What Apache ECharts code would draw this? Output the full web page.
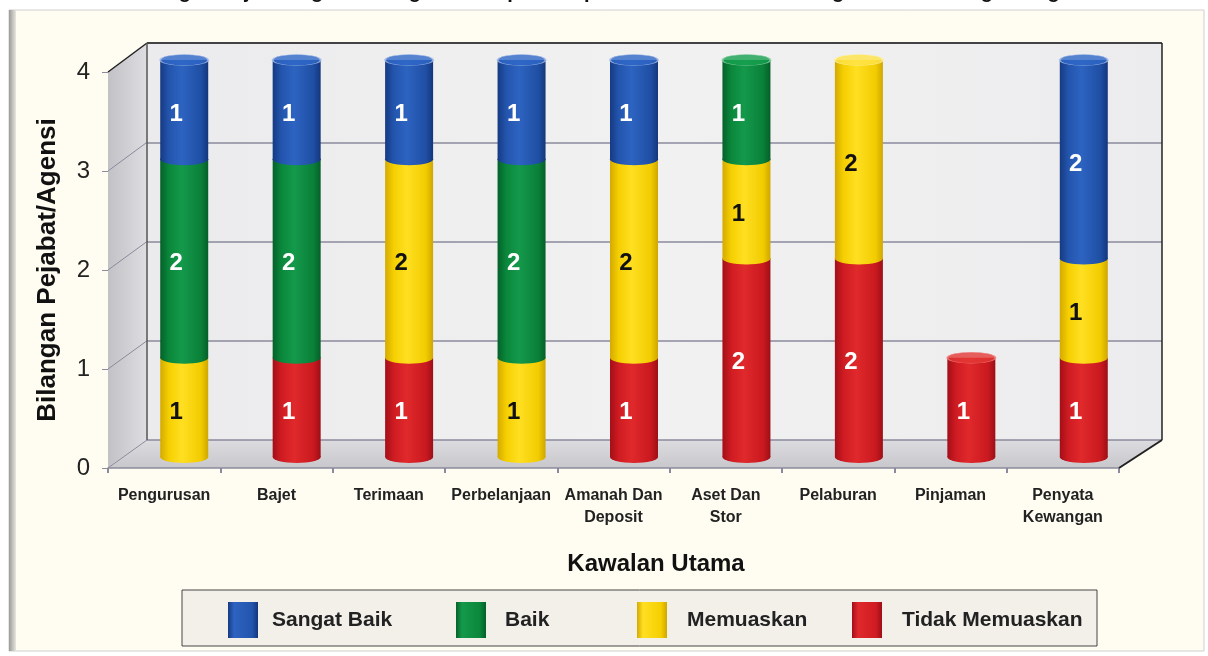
<!DOCTYPE html>
<html>
<head>
<meta charset="utf-8">
<script src="https://cdn.jsdelivr.net/npm/echarts@6/dist/echarts.min.js"></script>
<style>
  html, body { margin: 0; padding: 0; background: #fff; }
  #chart { width: 1208px; height: 656px; }
</style>
</head>
<body>
<div id="chart"></div>
<script>
// data
var categories = ['Pengurusan', 'Bajet', 'Terimaan', 'Perbelanjaan', 'Amanah Dan\nDeposit',
  'Aset Dan\nStor', 'Pelaburan', 'Pinjaman', 'Penyata\nKewangan'];
var tidakMemuaskan = [0, 1, 1, 0, 1, 2, 2, 1, 1];
var memuaskan      = [1, 0, 2, 1, 2, 1, 2, 0, 1];
var baik           = [2, 2, 0, 2, 0, 1, 0, 0, 0];
var sangatBaik     = [1, 1, 1, 1, 1, 0, 0, 0, 2];
var yMax = 4;

var FONT = '"Liberation Sans", Arial, sans-serif';

// kotak 3D (hiasan)
var FX0 = 108, FX1 = 1119, FY0 = 468, FY4 = 72;   // muka depan
var BX0 = 147, BX1 = 1162, BY0 = 440, BY4 = 43;   // dinding belakang

function grad(c) {
  return new echarts.graphic.LinearGradient(0, 0, 1, 0, [
    { offset: 0, color: c[0] }, { offset: 0.18, color: c[1] },
    { offset: 0.45, color: c[2] }, { offset: 0.85, color: c[3] }, { offset: 1, color: c[4] }
  ]);
}

// susunan dari bawah ke atas
var layers = [
  { name: 'Tidak Memuaskan', data: tidakMemuaskan, label: '#fff',
    c: ['#a30f18', '#cf1b22', '#e0292b', '#c9191f', '#9e0e17'], cap: '#e43a36', rim: '#f08080' },
  { name: 'Memuaskan', data: memuaskan, label: '#111',
    c: ['#d4aa00', '#f5cf00', '#ffdf22', '#f2cc00', '#cfa600'], cap: '#ffe448', rim: '#fff0a0' },
  { name: 'Baik', data: baik, label: '#fff',
    c: ['#05612a', '#0a873b', '#14994b', '#0a8038', '#055f29'], cap: '#16a04f', rim: '#8fd0a8' },
  { name: 'Sangat Baik', data: sangatBaik, label: '#fff',
    c: ['#163a82', '#2355ae', '#2d63c1', '#1f4fa4', '#14367c'], cap: '#2f68c8', rim: '#a9bde6' }
];

var series = [];
var base = categories.map(function () { return 0; });
var caps = categories.map(function () { return null; });

layers.forEach(function (L) {
  series.push({
    name: L.name, type: 'bar', stack: 'jumlah', xAxisIndex: 1, yAxisIndex: 1,
    barWidth: 48, z: 2,
    itemStyle: { color: grad(L.c) },
    label: {
      show: true, position: 'inside', offset: [-8, 5],
      color: L.label, fontSize: 24, fontWeight: 'bold', fontFamily: FONT,
      formatter: function (p) { return p.value > 0 ? p.value : ''; }
    },
    data: L.data
  });
  var ell = [];
  L.data.forEach(function (v, i) {
    if (v > 0) {
      ell.push([i, base[i]]);
      caps[i] = { value: [i, base[i] + v], itemStyle: { color: L.cap, borderColor: L.rim, borderWidth: 1 } };
      base[i] += v;
    }
  });
  series.push({
    type: 'scatter', xAxisIndex: 1, yAxisIndex: 1, silent: true, z: 3,
    symbol: 'circle', symbolSize: [48, 12],
    itemStyle: { color: grad(L.c), opacity: 1 },
    data: ell
  });
});

series.push({
  type: 'scatter', xAxisIndex: 1, yAxisIndex: 1, silent: true, z: 4,
  symbol: 'circle', symbolSize: [48, 11],
  data: caps.filter(function (d) { return d; })
});

function fy(v) { return FY0 - (FY0 - FY4) * v / yMax; }
function by(v) { return BY0 - (BY0 - BY4) * v / yMax; }

var graphics = [
  // panel
  { type: 'rect', z: -10, shape: { x: 9, y: 10, width: 1195, height: 641 },
    style: { fill: '#fffdf1', stroke: '#cfcfcf', lineWidth: 1 } },
  { type: 'rect', z: -9, shape: { x: 9, y: 10, width: 7, height: 641 },
    style: { fill: new echarts.graphic.LinearGradient(0, 0, 1, 0, [
      { offset: 0, color: '#9a9a9a' }, { offset: 1, color: '#e8e6dc' }]) } },
  // dinding belakang
  { type: 'rect', z: -5, shape: { x: BX0, y: BY4, width: BX1 - BX0, height: BY0 - BY4 },
    style: { fill: new echarts.graphic.LinearGradient(0, 0, 1, 0, [
      { offset: 0, color: '#ebebed' }, { offset: 0.5, color: '#f1f1f1' }, { offset: 1, color: '#ececee' }]) } },
  // dinding kiri
  { type: 'polygon', z: -5, shape: { points: [[FX0, FY0], [FX0, FY4], [BX0, BY4], [BX0, BY0]] },
    style: { fill: new echarts.graphic.LinearGradient(0, 0, 1, 0, [
      { offset: 0, color: '#c2c2c6' }, { offset: 1, color: '#dedee2' }]) } },
  // lantai
  { type: 'polygon', z: -5, shape: { points: [[FX0, FY0], [BX0, BY0], [BX1, BY0], [FX1, FY0]] },
    style: { fill: new echarts.graphic.LinearGradient(0, 0, 0, 1, [
      { offset: 0, color: '#dcdce0' }, { offset: 1, color: '#c8c8cc' }]) } }
];
for (var v = 1; v < yMax; v++) {
  graphics.push({ type: 'line', z: -4, shape: { x1: FX0, y1: fy(v), x2: BX0, y2: by(v) },
    style: { stroke: '#8a8a9c', lineWidth: 1 } });
}
[[FX0, FY4, BX0, BY4], [BX0, BY4, BX1, BY4], [BX1, BY4, BX1, BY0], [BX1, BY0, FX1, FY0], [BX0, BY4, BX0, BY0]]
  .forEach(function (s, k) {
    graphics.push({ type: 'line', z: 1, shape: { x1: s[0], y1: s[1], x2: s[2], y2: s[3] },
      style: { stroke: k === 4 ? '#555' : '#222', lineWidth: k === 3 ? 2 : 1.5 } });
  });
graphics.push({ type: 'line', z: 1, shape: { x1: BX0, y1: BY0, x2: FX0, y2: FY0 },
  style: { stroke: '#8a8a9c', lineWidth: 1 } });
// tajuk (terpotong di atas)
graphics.push({ type: 'text', z: 5, style: {
  text: 'Bilangan Pejabat/Agensi Mengikut Tahap Pencapaian Kawalan Utama Pengurusan Kewangan Negeri',
  x: 607, y: 2, textAlign: 'center', textVerticalAlign: 'bottom', verticalAlign: 'bottom',
  font: 'bold 20px ' + FONT, fill: '#111' } });
graphics.push({ type: 'text', z: 5, style: {
  text: 'Kawalan Utama', x: 656, y: 564, textAlign: 'center', textVerticalAlign: 'middle', verticalAlign: 'middle',
  font: 'bold 24px ' + FONT, fill: '#111' } });
// kotak legend
graphics.push({ type: 'rect', z: -1, shape: { x: 182, y: 590, width: 915, height: 56 },
  style: { fill: '#f3f0ea', stroke: '#444', lineWidth: 1 } });

var legendX = [228, 456, 637, 852];
var legendGap = [9, 14, 15, 15];
var legends = layers.slice().reverse().map(function (L, k) {
  return {
    data: [{ name: L.name, icon: 'rect', itemStyle: { color: new echarts.graphic.LinearGradient(0, 0, 1, 0, [
      { offset: 0, color: L.c[0] }, { offset: 0.2, color: L.c[2] }, { offset: 0.8, color: L.c[1] }, { offset: 1, color: L.c[4] }]) } }],
    left: legendX[k], top: 602, padding: 0, itemWidth: 30, itemHeight: 36,
    selectedMode: false,
    textStyle: { fontSize: 21, fontWeight: 'bold', color: '#222', fontFamily: FONT, padding: [0, 0, 0, legendGap[k]] }
  };
});

var myChart = echarts.init(document.getElementById('chart'));

myChart.setOption({
  animation: false,
  textStyle: { fontFamily: FONT },
  legend: legends,
  grid: [
    { left: BX0, right: 1208 - BX1, top: BY4, bottom: 656 - BY0 },   // belakang
    { left: 128, right: 68, top: 60, bottom: 199 },                   // silinder
    { left: FX0, right: 1208 - FX1, top: FY4, bottom: 656 - FY0 }     // depan
  ],
  xAxis: [
    { gridIndex: 0, type: 'category', data: categories, show: false },
    { gridIndex: 1, type: 'category', data: categories, show: false },
    { gridIndex: 2, type: 'category', data: categories,
      axisLine: { lineStyle: { color: '#8a8a9c', width: 1.5 } },
      axisTick: { show: true, length: 5, lineStyle: { color: '#8a8a9c', width: 2 } },
      axisLabel: { interval: 0, margin: 17, fontSize: 16, fontWeight: 'bold', color: '#222', lineHeight: 22 } }
  ],
  yAxis: [
    { gridIndex: 0, type: 'value', min: 0, max: yMax, interval: 1,
      axisLine: { show: false }, axisTick: { show: false }, axisLabel: { show: false },
      splitLine: { lineStyle: { color: '#8a8a9c', width: 1.5 } } },
    { gridIndex: 1, type: 'value', min: 0, max: yMax, interval: 1, show: false, splitLine: { show: false } },
    { gridIndex: 2, type: 'value', min: 0, max: yMax, interval: 1,
      name: 'Bilangan Pejabat/Agensi', nameLocation: 'middle', nameGap: 47, nameRotate: 90,
      nameTextStyle: { fontSize: 26, fontWeight: 'bold', color: '#111' },
      axisLine: { show: false },
      axisTick: { show: true, length: 6, lineStyle: { color: '#8a8a9c' } },
      axisLabel: { margin: 18, fontSize: 24, color: '#222' },
      splitLine: { show: false } }
  ],
  graphic: graphics,
  series: series
});
</script>
</body>
</html>
